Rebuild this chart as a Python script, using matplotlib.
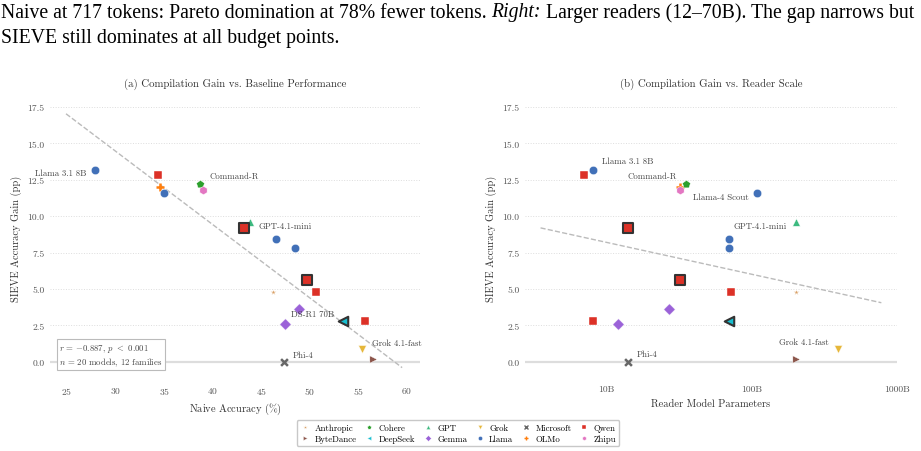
import numpy as np
import matplotlib
matplotlib.use('Agg')
import matplotlib.pyplot as plt
from matplotlib.lines import Line2D

plt.rcParams.update({
    'font.family': 'serif',
    'font.serif': ['cmr10'],
    'mathtext.fontset': 'cm',
    'axes.formatter.use_mathtext': True,
})

# ---- data ----
models = ['Llama 3.1 8B', 'Qwen 7B', 'OLMo 32B', 'Llama-4 Scout', 'Command-R',
          'GLM 32B', 'GPT-4.1-mini', 'Qwen 14B', 'Llama 70B a', 'Llama 70B b',
          'Qwen 32B', 'Qwen 72B', 'Claude', 'Gemma 27B', 'Gemma 12B',
          'DS-R1 70B', 'Qwen3 8B', 'Grok 4.1-fast', 'Seed', 'Phi-4']
families = ['Llama', 'Qwen', 'OLMo', 'Llama', 'Cohere',
            'Zhipu', 'GPT', 'Qwen', 'Llama', 'Llama',
            'Qwen', 'Qwen', 'Anthropic', 'Gemma', 'Gemma',
            'DeepSeek', 'Qwen', 'Grok', 'ByteDance', 'Microsoft']
naive_acc = [27.9, 34.4, 34.6, 35.0, 38.7,
             39.0, 43.8, 43.2, 46.5, 48.5,
             49.7, 50.6, 46.2, 48.9, 47.4,
             53.4, 55.7, 55.4, 56.5, 47.3]
gain_pp = [13.2, 12.8, 12.0, 11.6, 12.2,
           11.8, 9.6, 9.2, 8.4, 7.8,
           5.6, 4.8, 4.8, 3.6, 2.6,
           2.8, 2.8, 0.9, 0.2, 0.0]
params_b = [8, 7, 32, 109, 35,
            32, 200, 14, 70, 70,
            32, 72, 200, 27, 12,
            70, 8, 390, 200, 14]
highlight = ['Qwen 14B', 'Qwen 32B', 'DS-R1 70B']

family_order = ['Anthropic', 'ByteDance', 'Cohere', 'DeepSeek', 'GPT', 'Gemma',
                'Grok', 'Llama', 'Microsoft', 'OLMo', 'Qwen', 'Zhipu']

# marker, colour, size
STYLE = {
    'Anthropic': ('*', '#d9a066', 18),
    'ByteDance': ('>', '#8c564b', 28),
    'Cohere':    ('p', '#2ca02c', 36),
    'DeepSeek':  ('<', '#17becf', 32),
    'GPT':       ('^', '#3dba80', 30),
    'Gemma':     ('D', '#9b62d8', 34),
    'Grok':      ('v', '#e6b73a', 32),
    'Llama':     ('o', '#4170b8', 36),
    'Microsoft': ('x', '#666666', 24),
    'OLMo':      ('+', '#ff7f0e', 40),
    'Qwen':      ('s', '#dc3127', 30),
    'Zhipu':     ('h', '#e377c2', 36),
}

# (model, text, offset px, ha)
left_notes = [
    ('Llama 3.1 8B', 'Llama 3.1 8B', (-9, -3), 'right'),
    ('Command-R', 'Command-R', (9, 8), 'left'),
    ('GPT-4.1-mini', 'GPT-4.1-mini', (9, -4), 'left'),
    ('DS-R1 70B', 'DS-R1 70B', (-9, 7), 'right'),
    ('Grok 4.1-fast', 'Grok 4.1-fast', (10, 6), 'left'),
    ('Phi-4', 'Phi-4', (9, 7), 'left'),
]
right_notes = [
    ('Llama 3.1 8B', 'Llama 3.1 8B', (9, 9), 'left'),
    ('Command-R', 'Command-R', (-9, 8), 'right'),
    ('Llama-4 Scout', 'Llama-4 Scout', (-9, -4), 'right'),
    ('GPT-4.1-mini', 'GPT-4.1-mini', (-9, -4), 'right'),
    ('Grok 4.1-fast', 'Grok 4.1-fast', (-9, 7), 'right'),
    ('Phi-4', 'Phi-4', (9, 8), 'left'),
]

GRID = '#dddddd'
TXT = '#444444'


def draw_points(ax, xs):
    for i, m in enumerate(models):
        mk, col, s = STYLE[families[i]]
        if mk in ('x', '+'):
            ax.scatter(xs[i], gain_pp[i], marker=mk, color=col, s=s,
                       linewidths=1.8, zorder=3)
        elif m in highlight:
            ax.scatter(xs[i], gain_pp[i], marker=mk, color=col, s=s * 1.45,
                       edgecolors='#333333', linewidths=1.5, zorder=4)
        else:
            ax.scatter(xs[i], gain_pp[i], marker=mk, color=col, s=s,
                       edgecolors='white', linewidths=0.3, zorder=3)


def annotate(ax, xs, notes):
    for name, text, off, ha in notes:
        i = models.index(name)
        ax.annotate(text, (xs[i], gain_pp[i]), xytext=off,
                    textcoords='offset pixels', ha=ha, va='center',
                    fontsize=6.3, color=TXT, zorder=5)


def style_axes(ax):
    for sp in ax.spines.values():
        sp.set_visible(False)
    ax.set_ylim(-1.19, 18.26)
    ax.set_yticks([0, 2.5, 5, 7.5, 10, 12.5, 15, 17.5])
    ax.set_yticklabels(['0.0', '2.5', '5.0', '7.5', '10.0', '12.5', '15.0', '17.5'])
    ax.yaxis.grid(True, linestyle=':', color=GRID, linewidth=0.7)
    ax.set_axisbelow(True)
    ax.axhline(0, color=GRID, linewidth=1.6, zorder=0)
    ax.tick_params(length=0, labelsize=6.9, labelcolor='#555555', pad=4)
    ax.set_ylabel('SIEVE Accuracy Gain (pp)', fontsize=7.5, color='#333333')


fig = plt.figure(figsize=(9.21, 4.52), dpi=100)

# caption above the figure
cap_size = 14.2
fig.canvas.draw()
renderer = fig.canvas.get_renderer()
x0 = 0.001
pieces = [('Naive at 717 tokens: Pareto domination at 78% fewer tokens. ', 'normal'),
          ('Right:', 'italic'),
          (' Larger readers (12\u201370B). The gap narrows but', 'normal')]
for txt, st in pieces:
    t = fig.text(x0, 1 - 13 / 452, txt, fontsize=cap_size, family='Liberation Serif',
                 style=st, va='center', ha='left')
    x0 += t.get_window_extent(renderer).width / fig.bbox.width
fig.text(0.001, 1 - 39 / 452, 'SIEVE still dominates at all budget points.',
         fontsize=cap_size, family='Liberation Serif', va='center', ha='left')

# (a) gain vs naive accuracy
ax1 = fig.add_axes([50 / 921, 1 - 380 / 452, 370 / 921, 283 / 452])
style_axes(ax1)
ax1.set_xlim(23.25, 61.34)
ax1.set_xticks(range(25, 61, 5))
draw_points(ax1, naive_acc)
fit1 = np.polyfit(naive_acc, gain_pp, 1)
xx = np.linspace(min(naive_acc) - 3, max(naive_acc) + 3, 50)
ax1.plot(xx, np.polyval(fit1, xx), ls='--', color='#bbbbbb', lw=1.0, zorder=1)
annotate(ax1, naive_acc, left_notes)
ax1.text(0.025, 0.04, '$r$ = $-0.887$, $p$ $<$ 0.001\n$n$ = 20 models, 12 families',
         transform=ax1.transAxes, fontsize=6.3, color=TXT, ha='left', va='bottom',
         linespacing=1.1,
         bbox=dict(boxstyle='square,pad=0.3', facecolor='white', edgecolor='#bbbbbb', lw=0.8))
ax1.set_xlabel(r'Naive Accuracy ($\%$)', fontsize=7.5, color='#333333')
ax1.set_title('(a) Compilation Gain vs. Baseline Performance', fontsize=7.8,
              color='#333333', pad=7)

# (b) gain vs reader scale
ax2 = fig.add_axes([525 / 921, 1 - 380 / 452, 372 / 921, 283 / 452])
style_axes(ax2)
ax2.set_xscale('log')
ax2.set_xlim(2.735, 1000)
ax2.set_xticks([10, 100, 1000])
ax2.set_xticklabels(['10B', '100B', '1000B'])
ax2.xaxis.set_minor_locator(matplotlib.ticker.NullLocator())
draw_points(ax2, params_b)
logp = np.log10(params_b)
fit2 = np.polyfit(logp, gain_pp, 1)
lx = np.linspace(np.log10(min(params_b) * 0.5), np.log10(max(params_b) * 2), 50)
ax2.plot(10 ** lx, np.polyval(fit2, lx), ls='--', color='#bbbbbb', lw=1.0, zorder=1)
annotate(ax2, params_b, right_notes)
ax2.set_xlabel('Reader Model Parameters', fontsize=7.5, color='#333333')
ax2.set_title('(b) Compilation Gain vs. Reader Scale', fontsize=7.8,
              color='#333333', pad=7)

# shared legend
handles = []
for fam in family_order:
    mk, col, s = STYLE[fam]
    handles.append(Line2D([], [], marker=mk, color=col, linestyle='none',
                          markersize=3.0, markeredgewidth=1.0 if mk in ('x', '+') else 0.3,
                          markeredgecolor=col if mk in ('x', '+') else 'white', label=fam))
fig.legend(handles=handles, ncol=6, loc='center', bbox_to_anchor=(458 / 921, 1 - 434 / 452),
           fontsize=6.3, frameon=True, edgecolor='#bbbbbb', fancybox=True,
           handlelength=1.2, handletextpad=0.5, columnspacing=0.8, labelspacing=0.3,
           borderpad=0.4)

fig.savefig('out.png', dpi=100)
